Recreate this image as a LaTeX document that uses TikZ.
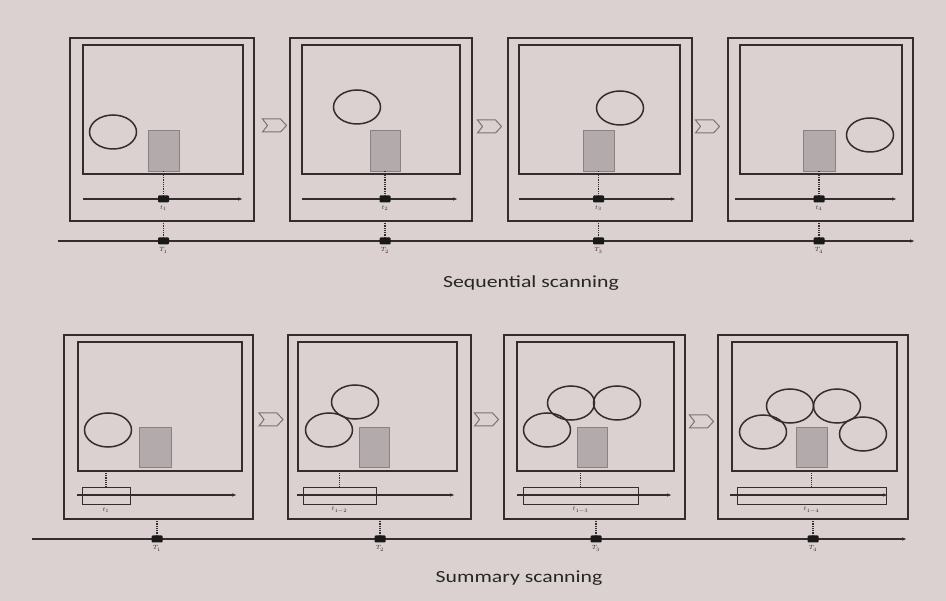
\documentclass[tikz,border=0pt]{standalone}
\usepackage{fontspec}
\setmainfont{Carlito}
\usetikzlibrary{arrows.meta,shapes.geometric}
\definecolor{bg}{HTML}{DBD1D1}
\definecolor{ink}{HTML}{352D2D}
\definecolor{shade}{HTML}{B3ABAB}
\definecolor{shadeline}{HTML}{8A8282}
\definecolor{chevc}{HTML}{7A7272}
\begin{document}
\begin{tikzpicture}[x=1pt,y=-1pt,
 panel/.style={draw=ink,line width=1.3pt,rectangle,inner sep=0pt,outer sep=0pt},
 blob/.style={draw=ink,line width=1.5pt,ellipse,minimum width=47pt,minimum height=34pt,inner sep=0pt},
 obj/.style={draw=shadeline,fill=shade,line width=0.8pt,rectangle,inner sep=0pt,minimum width=31pt,minimum height=41pt},
 win/.style={draw=ink,line width=0.8pt,rectangle,inner sep=0pt,minimum height=17pt},
 tick/.style={fill=black!90,rectangle,rounded corners=1pt,minimum width=11pt,minimum height=7pt,inner sep=0pt},
 tline/.style={draw=ink,line width=1.1pt,-{Latex[length=5pt,width=3.5pt]}},
 link/.style={draw=ink,line width=1.6pt,dash pattern=on 0.9pt off 0.9pt},
 tiny/.style={font=\fontsize{6.5}{6.5}\selectfont,text=ink,inner sep=0pt},
 caption/.style={font=\fontsize{17}{17}\selectfont,text=black!85,inner sep=0pt},
 chev/.pic={\draw[chevc,line width=1pt,line join=miter] (-12,-6.5) -- (6,-6.5) -- (12,0) -- (6,6.5) -- (-12,6.5) -- (-7,0) -- cycle;}
]
\fill[bg] (0,0) rectangle (946,601);
\useasboundingbox (0,0) rectangle (946,601);

% ================= Sequential scanning =================
% panel frames
\node[panel,minimum width=184pt,minimum height=183pt] (o1) at (162,129.5) {};
\node[panel,minimum width=160pt,minimum height=129pt] (i1) at (163,109.5) {};
\node[panel,minimum width=182pt,minimum height=183pt] (o2) at (381,129.5) {};
\node[panel,minimum width=158pt,minimum height=129pt] (i2) at (381,109.5) {};
\node[panel,minimum width=184pt,minimum height=183pt] (o3) at (600,129.5) {};
\node[panel,minimum width=161pt,minimum height=129pt] (i3) at (599.5,109.5) {};
\node[panel,minimum width=185pt,minimum height=183pt] (o4) at (820.5,129.5) {};
\node[panel,minimum width=162pt,minimum height=129pt] (i4) at (821,109.5) {};

% objects
\node[blob] (c1) at (113,132) {};
\node[obj] (r1) at (163.5,150.5) {};
\node[blob] (c2) at (357,107) {};
\node[obj,minimum width=30pt] (r2) at (385,150.5) {};
\node[blob] (c3) at (620,108) {};
\node[obj] (r3) at (598.5,150.5) {};
\node[blob] (c4) at (870,135) {};
\node[obj,minimum width=32pt] (r4) at (819,150.5) {};

% inner time lines
\coordinate (a1s) at (83,199); \coordinate (a1e) at (243,199);
\coordinate (a2s) at (302,199); \coordinate (a2e) at (458,199);
\coordinate (a3s) at (519,199); \coordinate (a3e) at (676,199);
\coordinate (a4s) at (735,199); \coordinate (a4e) at (897,199);
\draw[tline] (a1s) -- (a1e);
\draw[tline] (a2s) -- (a2e);
\draw[tline] (a3s) -- (a3e);
\draw[tline] (a4s) -- (a4e);

\node[tick] (m1) at (163.5,199) {};
\node[tick] (m2) at (385,199) {};
\node[tick] (m3) at (598.5,199) {};
\node[tick] (m4) at (819,199) {};
\node[tiny] (l1) at (163.5,208) {$t_1$};
\node[tiny] (l2) at (385,208) {$t_2$};
\node[tiny] (l3) at (598.5,208) {$t_3$};
\node[tiny] (l4) at (819,208) {$t_4$};

% global time line
\coordinate (Ts) at (58,241); \coordinate (Te) at (915,241);
\draw[tline] (Ts) -- (Te);
\node[tick] (M1) at (163.5,241) {};
\node[tick] (M2) at (385,241) {};
\node[tick] (M3) at (598.5,241) {};
\node[tick] (M4) at (819,241) {};
\node[tiny] (L1) at (163.5,250.5) {$T_1$};
\node[tiny] (L2) at (385,250.5) {$T_2$};
\node[tiny] (L3) at (598.5,250.5) {$T_3$};
\node[tiny] (L4) at (819,250.5) {$T_4$};

% dotted links
\draw[link] (r1.south) -- (m1);
\draw[link] (r2.south) -- (m2);
\draw[link] (r3.south) -- (m3);
\draw[link] (r4.south) -- (m4);
\draw[link] (o1.south -| M1) -- (M1);
\draw[link] (o2.south -| M2) -- (M2);
\draw[link] (o3.south -| M3) -- (M3);
\draw[link] (o4.south -| M4) -- (M4);

% chevrons
\pic at (274.5,125.5) {chev};
\pic at (489.5,126.5) {chev};
\pic at (707.5,126.5) {chev};

\node[caption] (cap1) at (531,283) {\scalebox{1.28}[1]{Sequential scanning}};

% ================= Summary scanning =================
\node[panel,minimum width=189pt,minimum height=184pt] (p1) at (158.5,427) {};
\node[panel,minimum width=164pt,minimum height=129pt] (j1) at (160,406.5) {};
\node[panel,minimum width=183pt,minimum height=184pt] (p2) at (379.5,427) {};
\node[panel,minimum width=159pt,minimum height=129pt] (j2) at (377.5,406.5) {};
\node[panel,minimum width=181pt,minimum height=184pt] (p3) at (594.5,427) {};
\node[panel,minimum width=157pt,minimum height=129pt] (j3) at (595.5,406.5) {};
\node[panel,minimum width=190pt,minimum height=184pt] (p4) at (813,427) {};
\node[panel,minimum width=165pt,minimum height=129pt] (j4) at (814.5,406.5) {};

% objects
\node[blob] (d1a) at (108,430) {};
\node[obj,minimum width=32pt,minimum height=40pt] (s1) at (155,447) {};

\node[blob] (d2a) at (355,402) {};
\node[blob] (d2b) at (329,430) {};
\node[obj,minimum width=30pt,minimum height=40pt] (s2) at (374,447) {};

\node[blob] (d3a) at (571,403) {};
\node[blob] (d3b) at (617,403) {};
\node[blob] (d3c) at (547,430) {};
\node[obj,minimum width=30pt,minimum height=40pt] (s3) at (592,447) {};

\node[blob] (d4a) at (790,406) {};
\node[blob] (d4b) at (837,406) {};
\node[blob] (d4c) at (763,432) {};
\node[blob] (d4d) at (863,434) {};
\node[obj,minimum width=31pt,minimum height=40pt] (s4) at (811.5,447) {};

% scan windows
\node[win,minimum width=48pt] (w1) at (106,495.5) {};
\node[win,minimum width=73pt] (w2) at (339.5,495.5) {};
\node[win,minimum width=115pt] (w3) at (580.5,495.5) {};
\node[win,minimum width=149pt] (w4) at (811.5,495.5) {};

\coordinate (b1s) at (77,495); \coordinate (b1e) at (237,495);
\coordinate (b2s) at (297,495); \coordinate (b2e) at (455,495);
\coordinate (b3s) at (517,495); \coordinate (b3e) at (672,495);
\coordinate (b4s) at (730,495); \coordinate (b4e) at (888,495);
\draw[tline] (b1s) -- (b1e);
\draw[tline] (b2s) -- (b2e);
\draw[tline] (b3s) -- (b3e);
\draw[tline] (b4s) -- (b4e);

\node[tiny] (k1) at (106,510) {$t_1$};
\node[tiny] (k2) at (339.5,510) {$t_{1-2}$};
\node[tiny] (k3) at (580.5,510) {$t_{1-3}$};
\node[tiny] (k4) at (811.5,510) {$t_{1-4}$};

\draw[link] (w1.north) -- (w1.north |- j1.south);
\draw[link] (w2.north) -- (w2.north |- j2.south);
\draw[link] (w3.north) -- (w3.north |- j3.south);
\draw[link] (w4.north) -- (w4.north |- j4.south);

% global time line
\coordinate (Us) at (32,539); \coordinate (Ue) at (907,539);
\draw[tline] (Us) -- (Ue);
\node[tick] (N1) at (157,539) {};
\node[tick] (N2) at (380,539) {};
\node[tick] (N3) at (596,539) {};
\node[tick] (N4) at (813,539) {};
\node[tiny] (K1) at (157,548.5) {$T_1$};
\node[tiny] (K2) at (380,548.5) {$T_2$};
\node[tiny] (K3) at (596,548.5) {$T_3$};
\node[tiny] (K4) at (813,548.5) {$T_4$};
\draw[link] (p1.south -| N1) -- (N1);
\draw[link] (p2.south -| N2) -- (N2);
\draw[link] (p3.south -| N3) -- (N3);
\draw[link] (p4.south -| N4) -- (N4);

% chevrons
\pic at (271,419.5) {chev};
\pic at (486.5,419.5) {chev};
\pic at (701.5,421.5) {chev};

\node[caption] (cap2) at (519,578) {\scalebox{1.28}[1]{Summary scanning}};
\end{tikzpicture}
\end{document}
